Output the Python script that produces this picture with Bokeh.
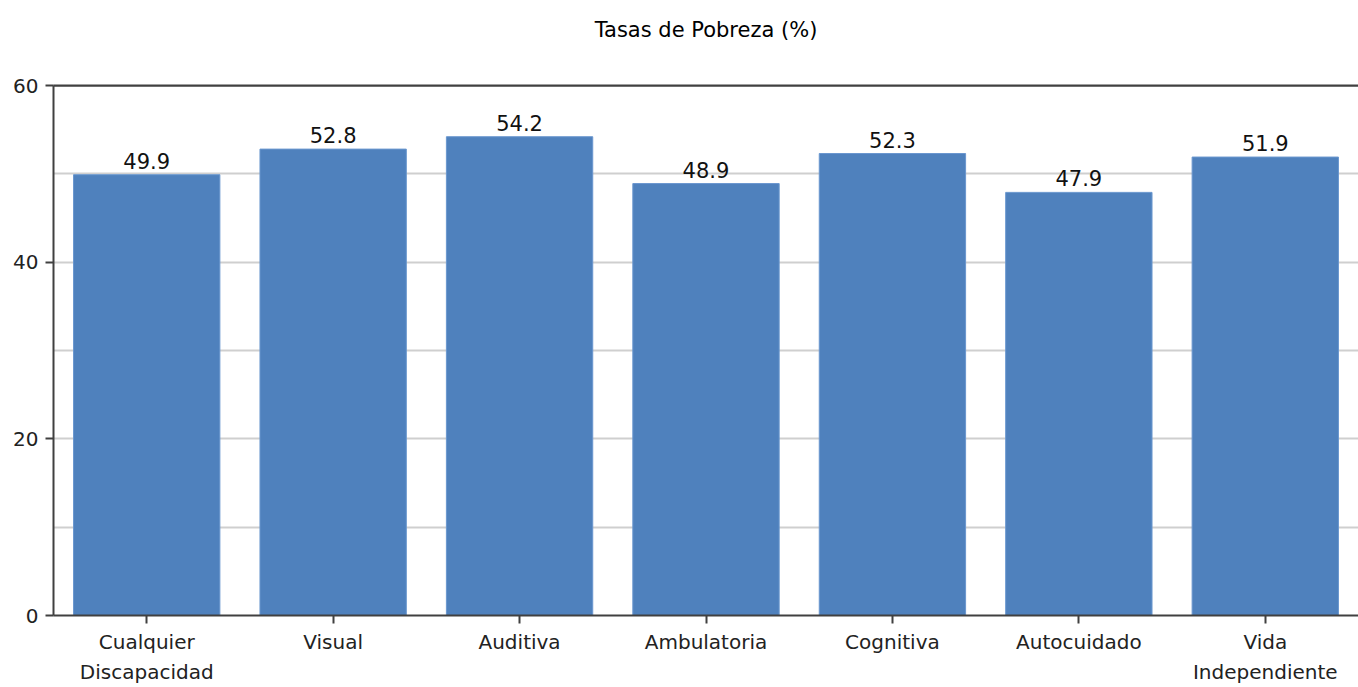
from bokeh.plotting import figure
from bokeh.models import (ColumnDataSource, FactorRange, Range1d, LabelSet, FixedTicker,
                          LinearAxis, Span)
from bokeh.core.properties import value
from bokeh.embed import file_html
from bokeh.resources import INLINE

categories = ["Cualquier\nDiscapacidad", "Visual", "Auditiva", "Ambulatoria",
              "Cognitiva", "Autocuidado", "Vida\nIndependiente"]
values = [49.9, 52.8, 54.2, 48.9, 52.3, 47.9, 51.9]
value_labels = ["49.9", "52.8", "54.2", "48.9", "52.3", "47.9", "51.9"]
y_ticks = [0, 20, 40, 60]
grid_lines = [10, 20, 30, 40, 50]
title_text = "Tasas de Pobreza (%)"

FONT = "DejaVu Sans"
BLUE = "#4f81bd"
AXIS = "#404040"

src = ColumnDataSource(dict(cat=categories, val=values, lab=value_labels))

p = figure(x_range=FactorRange(factors=categories, range_padding=0),
           y_range=Range1d(0, 60),
           width=1358, height=687,
           output_backend="svg", toolbar_location=None,
           title=None,
           min_border_left=53, min_border_right=0, min_border_top=85, min_border_bottom=70)

# top frame border without ticks; its axis label serves as the chart title
top_axis = LinearAxis(ticker=FixedTicker(ticks=[]),
                      axis_line_color=AXIS, axis_line_width=2,
                      major_tick_out=0, major_tick_in=0, major_tick_line_color=None,
                      minor_tick_line_color=None, major_label_standoff=0,
                      axis_label=title_text, axis_label_standoff=44,
                      axis_label_text_font=FONT, axis_label_text_font_size="21px",
                      axis_label_text_font_style="normal", axis_label_text_color="#000000")
p.add_layout(top_axis, "above")

p.vbar(x="cat", top="val", width=0.785, source=src, fill_color=BLUE,
       line_color="#6a97cf", line_width=1)

labels = LabelSet(x="cat", y="val", text="lab", source=src, y_offset=6,
                  text_align="center", text_baseline="alphabetic",
                  text_font=value(FONT), text_font_size="21px", text_color="#111111")
p.add_layout(labels)

p.outline_line_color = None
p.add_layout(Span(location=60, dimension="width", line_color=AXIS, line_width=2))

p.xgrid.grid_line_color = None
p.ygrid.ticker = FixedTicker(ticks=grid_lines)
p.ygrid.grid_line_color = "#cfcfcf"
p.ygrid.grid_line_width = 2

p.yaxis.ticker = FixedTicker(ticks=y_ticks)
p.yaxis.minor_tick_line_color = None
p.yaxis.major_tick_out = 8
p.yaxis.major_tick_in = 0
p.yaxis.major_label_standoff = 7

xax = p.below[0]
xax.major_tick_out = 8
xax.major_tick_in = 0
xax.major_label_standoff = 6
xax.major_label_text_line_height = 1.29

for ax in (xax, p.left[0]):
    ax.axis_line_color = AXIS
    ax.axis_line_width = 2
    ax.major_tick_line_color = AXIS
    ax.major_tick_line_width = 2
    ax.major_label_text_font = FONT
    ax.major_label_text_font_size = "20px"
    ax.major_label_text_color = "#222222"

open("out.html", "w").write(file_html(p, INLINE))
